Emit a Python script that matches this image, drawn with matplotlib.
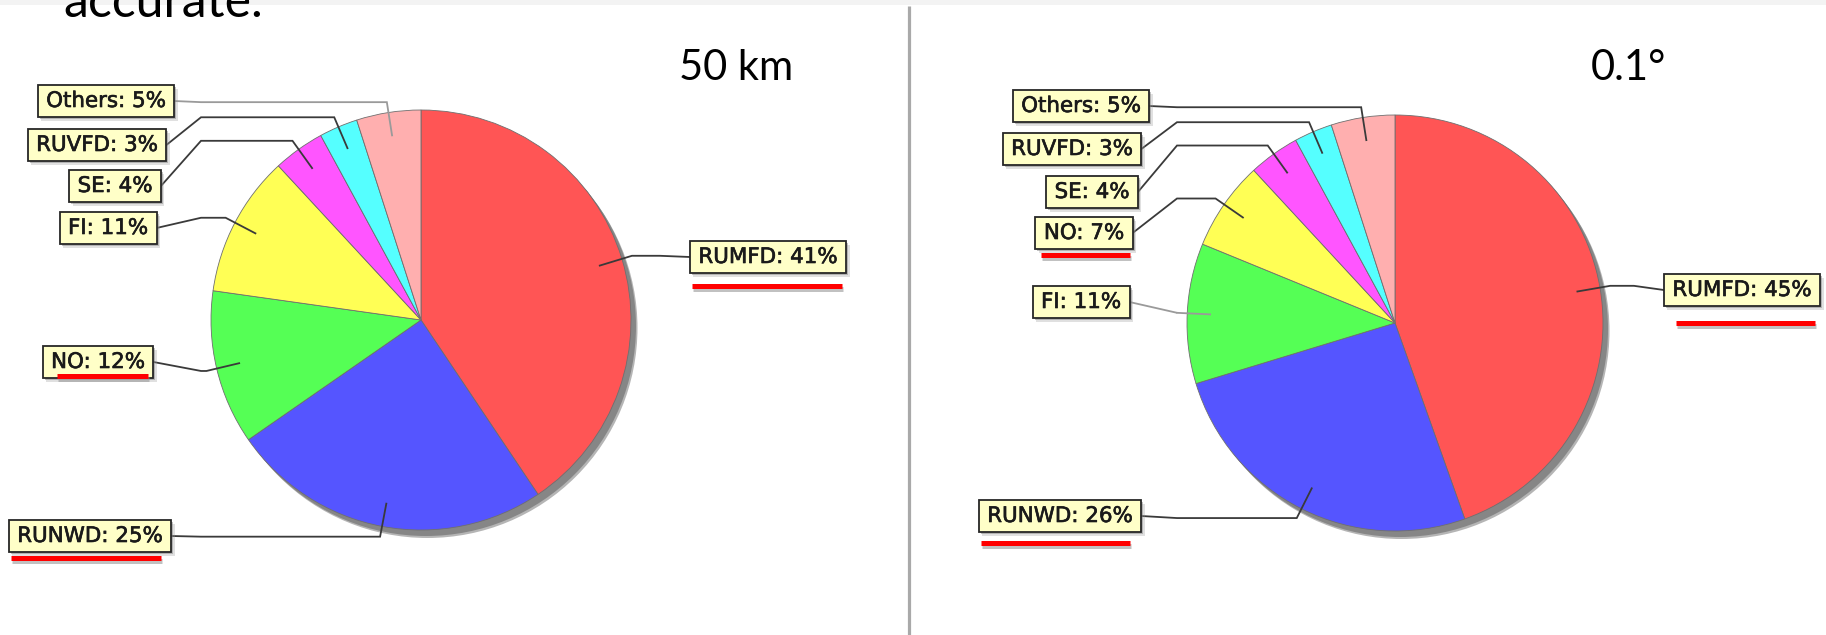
import matplotlib
matplotlib.use("Agg")
import matplotlib.pyplot as plt
import matplotlib.patheffects as pe
from matplotlib.patches import Circle, Rectangle
import numpy as np

# ---------------- data ----------------
slide_caption = "accurate."
left_title = "50 km"
left_labels = ["RUMFD", "RUNWD", "NO", "FI", "SE", "RUVFD", "Others"]
left_values = [41, 25, 12, 11, 4, 3, 5]
right_title = "0.1\u00b0"
right_labels = ["RUMFD", "RUNWD", "FI", "NO", "SE", "RUVFD", "Others"]
right_values = [45, 26, 11, 7, 4, 3, 5]
slice_colors = ["#FF5555", "#5555FF", "#55FF55", "#FFFF55", "#FF55FF", "#55FFFF", "#FFAFAF"]

# ---------------- layout (pixels, y measured from top) ----------------
W, H = 1826, 635


def Y(y):
    return H - y


fig = plt.figure(figsize=(W / 100, H / 100), dpi=100)
ax = fig.add_axes([0, 0, 1, 1])

# top band and separator
ax.add_patch(Rectangle((0, Y(5)), W, 5, fc="#f3f3f3", ec="none", zorder=0))
ax.plot([909, 909], [Y(6), Y(635)], color="#a9a9a9", lw=2.3, zorder=0.5,
        solid_capstyle="butt")

ax.text(63, Y(17), slide_caption, ha="left", va="baseline", fontsize=36,
        family="Lato", color="black", zorder=3)

pies = [
    dict(title=left_title, title_xy=(679, 80), labels=left_labels, values=left_values,
         center=(421, 320), radius=210, bend_left=201,
         boxes=[(768, 257), (90, 536), (98, 362), (108, 228), (115, 186), (97, 145), (106, 101)],
         light=["Others"],
         underlines=[(692, 842, 286), (57, 148, 376), (11, 161, 558)]),
    dict(title=right_title, title_xy=(1591, 80), labels=right_labels, values=right_values,
         center=(1395, 323), radius=208, bend_left=1177,
         boxes=[(1742, 290), (1060, 516), (1081, 302), (1084, 233), (1092, 192), (1072, 149), (1081, 106)],
         light=["FI"],
         underlines=[(1676, 1815, 323), (1041, 1130, 255), (981, 1130, 543)]),
]

text_fx = [pe.withStroke(linewidth=0.45, foreground="#1a1a1a")]
line_fx = [pe.SimpleLineShadow(offset=(0.5, -2.5), shadow_color="#999999", alpha=0.6), pe.Normal()]
PADX, PADY = 8.5, 6

drawn = []
for p in pies:
    cx, cy = p["center"]
    r = p["radius"]
    # pie shadow
    ax.add_patch(Circle((cx + 6.5, Y(cy) - 8), r, fc="#b5b5b5", ec="none", zorder=0.8))
    ax.add_patch(Circle((cx + 5, Y(cy) - 6), r, fc="#868686", ec="none", zorder=0.9))
    wedges, _ = ax.pie(p["values"], colors=slice_colors, startangle=90, counterclock=False,
                       center=(cx, Y(cy)), radius=r, frame=True,
                       wedgeprops=dict(edgecolor="#6f6f6f", linewidth=0.6, zorder=2))
    texts = []
    for lab, val, (bx, by) in zip(p["labels"], p["values"], p["boxes"]):
        t = ax.text(bx, Y(by), f"{lab}: {val}%", ha="center", va="center", fontsize=15.4,
                    family="DejaVu Sans", color="#1a1a1a", zorder=7, path_effects=text_fx)
        texts.append(t)
    ax.text(p["title_xy"][0], Y(p["title_xy"][1]), p["title"], ha="left", va="baseline",
            fontsize=30, family="Lato", color="black", zorder=3)
    for x0, x1, yy in p["underlines"]:
        ax.plot([x0, x1], [Y(yy), Y(yy)], color="#FF0000", lw=3.6, solid_capstyle="butt",
                zorder=8, path_effects=line_fx)
    drawn.append((p, wedges, texts))

ax.set_xlim(0, W)
ax.set_ylim(0, H)
ax.set_aspect("auto")
ax.axis("off")

fig.canvas.draw()
for p, wedges, texts in drawn:
    cx, cy = p["center"]
    r = p["radius"]
    for lab, w, t in zip(p["labels"], wedges, texts):
        ext = t.get_window_extent()
        x0, y0 = ext.x0 - PADX, ext.y0 - PADY
        bw, bh = ext.width + 2 * PADX, ext.height + 2 * PADY
        ax.add_patch(Rectangle((x0 + 3.5, y0 - 3.5), bw, bh, fc="#9a9a9a", ec="none",
                               alpha=0.3, zorder=5))
        ax.add_patch(Rectangle((x0 + 2, y0 - 2), bw, bh, fc="#7a7a7a", ec="none",
                               alpha=0.45, zorder=5.1))
        ax.add_patch(Rectangle((x0, y0), bw, bh, fc="#FFFFC8", ec="#262626", lw=1.3,
                               zorder=6))
        by = y0 + bh / 2
        mid = np.deg2rad((w.theta1 + w.theta2) / 2)
        c, s = np.cos(mid), np.sin(mid)
        a = (cx + 0.89 * r * c, Y(cy) + 0.89 * r * s)
        e = (cx + 1.05 * r * c, Y(cy) + 1.05 * r * s)
        if x0 + bw / 2 < cx:
            edge = x0 + bw
            bend = p["bend_left"]
        else:
            edge = x0
            bend = edge - 30
        xs = [a[0], e[0], bend, edge]
        ys = [a[1], e[1], e[1], by]
        col = "#9a9a9a" if lab in p["light"] else "#3a3a3a"
        ax.plot(xs, ys, color=col, lw=1.3, zorder=4, solid_joinstyle="miter")

fig.savefig("out.png", dpi=100, facecolor="white")
